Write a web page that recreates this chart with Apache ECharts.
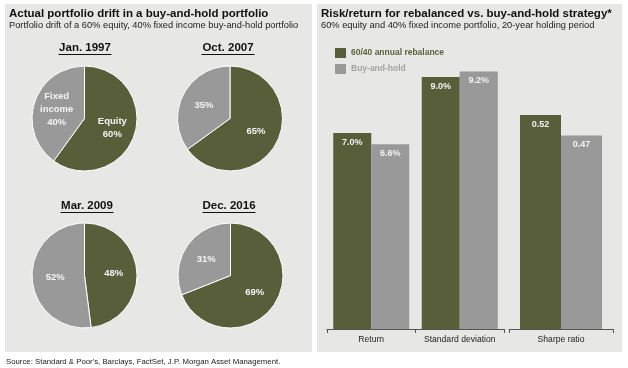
<!DOCTYPE html>
<html>
<head>
<meta charset="utf-8">
<script src="https://cdn.jsdelivr.net/npm/echarts@6/dist/echarts.min.js"></script>
<style>
html,body{margin:0;padding:0;background:#fff;}
#chart{width:628px;height:368px;}
</style>
</head>
<body>
<div id="chart"></div>
<script>
// ---- Data ----
var pieDates = ['Jan. 1997', 'Oct. 2007', 'Mar. 2009', 'Dec. 2016'];
var sliceNames = ['Equity', 'Fixed income'];
var equityShare = [60, 65, 48, 69];
var fixedIncomeShare = [40, 35, 52, 31];
var showSliceNames = [true, false, false, false];

var seriesNames = ['60/40 annual rebalance', 'Buy-and-hold'];
var barCategories = ['Return', 'Standard deviation'];
var rebalanceValues = [7.0, 9.0];
var buyHoldValues = [6.6, 9.2];
var sharpeCategories = ['Sharpe ratio'];
var rebalanceSharpe = [0.52];
var buyHoldSharpe = [0.47];

// ---- Style ----
var GREEN = '#585e3a';
var GRAY = '#999999';
var PANEL = '#e7e7e6';
var FONT = '"Liberation Sans", Arial, sans-serif';

var chart = echarts.init(document.getElementById('chart'), null, {renderer: 'canvas'});

var pieLayout = [
  {c: [84.5, 118.5], t: [85, 48]},
  {c: [230, 118.5], t: [228, 48]},
  {c: [84.5, 275.5], t: [87, 206]},
  {c: [230.5, 275.5], t: [229, 206]}
];

var series = [];
var graphics = [
  {type: 'rect', shape: {x: 5, y: 4, width: 307, height: 348}, style: {fill: PANEL}, silent: true, z: -10},
  {type: 'rect', shape: {x: 317, y: 4, width: 305, height: 348}, style: {fill: PANEL}, silent: true, z: -10}
];

pieDates.forEach(function (d, i) {
  var named = showSliceNames[i];
  series.push({
    type: 'pie',
    center: pieLayout[i].c,
    radius: 52.5,
    startAngle: 90,
    clockwise: true,
    silent: true,
    label: {
      show: true,
      position: 'inside',
      color: '#f4f4f4',
      fontFamily: FONT,
      fontWeight: 'bold',
      fontSize: 9.5,
      lineHeight: 13,
      formatter: function (p) {
        if (named) {
          return p.name.replace(' ', '\n') + '\n' + p.value + '%';
        }
        return p.value + '%';
      }
    },
    labelLine: {show: false},
    itemStyle: {borderColor: '#ffffff', borderWidth: 1},
    data: [
      {name: sliceNames[0], value: equityShare[i], itemStyle: {color: GREEN}},
      {name: sliceNames[1], value: fixedIncomeShare[i], itemStyle: {color: GRAY}}
    ]
  });
  var tx = pieLayout[i].t[0], ty = pieLayout[i].t[1];
  graphics.push({
    type: 'text', x: tx, y: ty, silent: true,
    style: {text: d, fill: '#111', font: 'bold 11.5px ' + FONT, textAlign: 'center', textVerticalAlign: 'middle'}
  });
  graphics.push({
    type: 'line', silent: true,
    shape: {x1: tx - 26.5, y1: ty + 6.5, x2: tx + 26.5, y2: ty + 6.5},
    style: {stroke: '#111', lineWidth: 1}
  });
});

var barLabel = function (dec, pct) {
  return {
    show: true,
    position: 'insideTop',
    distance: 5,
    color: '#f2f2f2',
    fontFamily: FONT,
    fontWeight: 'bold',
    fontSize: 9,
    formatter: function (p) { return p.value.toFixed(dec) + (pct ? '%' : ''); }
  };
};

series.push(
  {type: 'bar', name: seriesNames[0], xAxisIndex: 0, yAxisIndex: 0, data: rebalanceValues, barWidth: 38, barGap: '0%',
   itemStyle: {color: GREEN}, label: barLabel(1, true)},
  {type: 'bar', name: seriesNames[1], xAxisIndex: 0, yAxisIndex: 0, data: buyHoldValues, barWidth: 38, barGap: '0%',
   itemStyle: {color: GRAY}, label: barLabel(1, true)},
  {type: 'bar', name: seriesNames[0], xAxisIndex: 1, yAxisIndex: 1, data: rebalanceSharpe, barWidth: 41, barGap: '0%',
   itemStyle: {color: GREEN}, label: barLabel(2, false)},
  {type: 'bar', name: seriesNames[1], xAxisIndex: 1, yAxisIndex: 1, data: buyHoldSharpe, barWidth: 41, barGap: '0%',
   itemStyle: {color: GRAY}, label: barLabel(2, false)}
);

var xAxisCommon = {
  type: 'category',
  axisLine: {show: true, lineStyle: {color: '#555', width: 1}},
  axisTick: {show: true, length: 4, lineStyle: {color: '#555'}},
  axisLabel: {color: '#222', fontFamily: FONT, fontSize: 8.6, margin: 6, interval: 0},
  splitLine: {show: false}
};

var titleBase = {padding: 0};

var option = {
  animation: false,
  backgroundColor: '#ffffff',
  textStyle: {fontFamily: FONT},
  title: [
    {text: 'Actual portfolio drift in a buy-and-hold portfolio', left: 9, top: 8, padding: 0,
     textStyle: {fontFamily: FONT, fontSize: 11.5, fontWeight: 'bold', color: '#111'}},
    {text: 'Portfolio drift of a 60% equity, 40% fixed income buy-and-hold portfolio', left: 9, top: 20.5, padding: 0,
     textStyle: {fontFamily: FONT, fontSize: 9.3, fontWeight: 'normal', color: '#222'}},
    {text: 'Risk/return for rebalanced vs. buy-and-hold strategy*', left: 321, top: 8, padding: 0,
     textStyle: {fontFamily: FONT, fontSize: 11.5, fontWeight: 'bold', color: '#111'}},
    {text: '60% equity and 40% fixed income portfolio, 20-year holding period', left: 321, top: 20.5, padding: 0,
     textStyle: {fontFamily: FONT, fontSize: 9.3, fontWeight: 'normal', color: '#222'}},
    {text: "Source: Standard & Poor's, Barclays, FactSet, J.P. Morgan Asset Management.", left: 6, top: 357.5, padding: 0,
     textStyle: {fontFamily: FONT, fontSize: 7.8, fontWeight: 'normal', color: '#222'}}
  ],
  legend: {
    orient: 'vertical',
    left: 335, top: 48, padding: 0,
    itemWidth: 11, itemHeight: 10, itemGap: 6,
    icon: 'rect',
    selectedMode: false,
    textStyle: {fontFamily: FONT, fontSize: 8.5, fontWeight: 'bold'},
    data: [
      {name: seriesNames[0], textStyle: {color: '#5b6139'}},
      {name: seriesNames[1], textStyle: {color: '#a3a3a3'}}
    ]
  },
  grid: [
    {left: 327, top: 49, width: 177, height: 280, containLabel: false},
    {left: 509, top: 49, width: 104, height: 280, containLabel: false}
  ],
  xAxis: [
    Object.assign({}, xAxisCommon, {gridIndex: 0, data: barCategories}),
    Object.assign({}, xAxisCommon, {gridIndex: 1, data: sharpeCategories})
  ],
  yAxis: [
    {type: 'value', gridIndex: 0, min: 0, max: 10, show: false, splitLine: {show: false}},
    {type: 'value', gridIndex: 1, min: 0, max: 0.68, show: false, splitLine: {show: false}}
  ],
  graphic: graphics,
  series: series
};

chart.setOption(option);
</script>
</body>
</html>
